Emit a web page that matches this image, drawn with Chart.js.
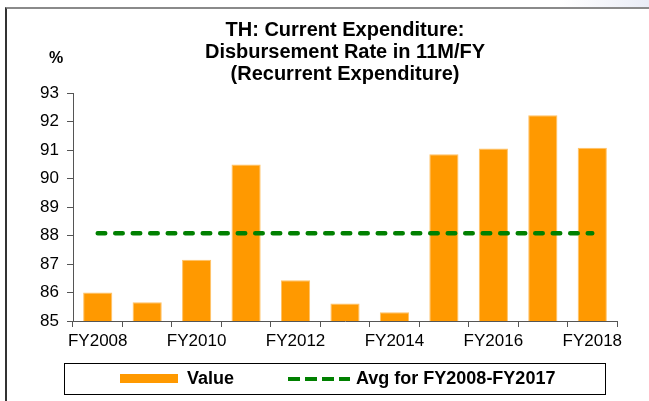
<!DOCTYPE html>
<html>
<head>
<meta charset="utf-8">
<script src="https://cdn.jsdelivr.net/npm/chart.js@4.4.0/dist/chart.umd.min.js"></script>
<style>
  body { margin: 0; background: #fff; }
  #wrap { position: relative; width: 649px; height: 401px; overflow: hidden; font-family: "Liberation Sans", Arial, sans-serif; }
  #frame { position: absolute; left: 5px; top: 7px; width: 660px; height: 420px; border-top: 2px solid #8a8a8a; border-left: 2px solid #333; }
  #glow { position: absolute; left: 560px; top: 0; width: 89px; height: 7px; background: linear-gradient(to right, #fff, #e9ecf6); }
  #chart { position: absolute; left: 0; top: 0; }
  .lg { position: absolute; }
  #lgbox { left: 64px; top: 363px; width: 540px; height: 30px; border: 1px solid #000; }
  #lgbar { left: 120px; top: 374px; width: 58px; height: 9px; background: #ff9900; }
  #lgdash { left: 288px; top: 377px; width: 62px; height: 4px; background: repeating-linear-gradient(to right, #008000 0 12px, transparent 12px 17px); }
  .lgtext { position: absolute; top: 369px; font-size: 18px; line-height: 18px; font-weight: bold; color: #000; white-space: nowrap; }
</style>
</head>
<body>
<div id="wrap">
  <div id="glow"></div>
  <div id="frame"></div>
  <canvas id="chart" width="649" height="401"></canvas>
  <div class="lg" id="lgbox"></div>
  <div class="lg" id="lgbar"></div>
  <span class="lgtext" style="left:187px">Value</span>
  <div class="lg" id="lgdash"></div>
  <span class="lgtext" style="left:356px">Avg for FY2008-FY2017</span>
</div>
<script>
const years = ["FY2008", "FY2009", "FY2010", "FY2011", "FY2012", "FY2013", "FY2014", "FY2015", "FY2016", "FY2017", "FY2018"];
const values = [86.0, 85.66, 87.15, 90.49, 86.43, 85.61, 85.31, 90.85, 91.05, 92.22, 91.08];
const avgValues = [88.08, 88.08, 88.08, 88.08, 88.08, 88.08, 88.08, 88.08, 88.08, 88.08, 88.08];
const titleLines = ["TH: Current Expenditure:", "Disbursement Rate in 11M/FY", "(Recurrent Expenditure)"];

const font = "'Liberation Sans', Arial, sans-serif";

// the "%" unit above the y axis
const unitLabel = {
  id: "unitLabel",
  afterDraw(chart) {
    const ctx = chart.ctx;
    ctx.save();
    ctx.font = "bold 16px " + font;
    ctx.fillStyle = "#000";
    ctx.textBaseline = "alphabetic";
    ctx.fillText("%", 49, 63);
    ctx.restore();
  }
};

new Chart(document.getElementById("chart"), {
  data: {
    labels: years,
    datasets: [
      {
        type: "line",
        label: "Avg for FY2008-FY2017",
        data: avgValues,
        borderColor: "#008000",
        borderWidth: 4.5,
        borderDash: [7.5, 10],
        borderCapStyle: "round",
        pointRadius: 0,
        fill: false,
        order: 0
      },
      {
        type: "bar",
        label: "Value",
        data: values,
        backgroundColor: "#ff9900",
        borderColor: "#ffc266",
        borderWidth: 1,
        categoryPercentage: 1,
        barPercentage: 0.59,
        order: 1
      }
    ]
  },
  options: {
    responsive: false,
    animation: false,
    devicePixelRatio: 1,
    layout: { padding: { left: 0, right: 32, top: 0, bottom: 0 } },
    plugins: {
      legend: { display: false },
      tooltip: { enabled: false },
      title: {
        display: true,
        text: titleLines,
        fullSize: false,
        color: "#000",
        font: { family: font, size: 20, weight: "bold", lineHeight: 1.1 },
        padding: { top: 19, bottom: 8 }
      }
    },
    scales: {
      x: {
        offset: true,
        grid: { offset: true, drawOnChartArea: false, drawTicks: true, tickLength: 6, color: "#555" },
        border: { display: true, color: "#555", width: 1 },
        ticks: {
          autoSkip: false,
          maxRotation: 0,
          padding: 4,
          color: "#000",
          font: { family: font, size: 17 },
          callback: (v, i) => (i % 2 === 0 ? years[i] : "")
        },
        afterFit: (s) => { s.height = 80; }
      },
      y: {
        min: 85,
        max: 93,
        ticks: { stepSize: 1, padding: 8, color: "#000", font: { family: font, size: 17 } },
        grid: { drawOnChartArea: false, drawTicks: true, tickLength: 6, color: "#555" },
        border: { display: true, color: "#555", width: 1 },
        afterFit: (s) => { s.width = 73; }
      }
    }
  },
  plugins: [unitLabel]
});
</script>
</body>
</html>
